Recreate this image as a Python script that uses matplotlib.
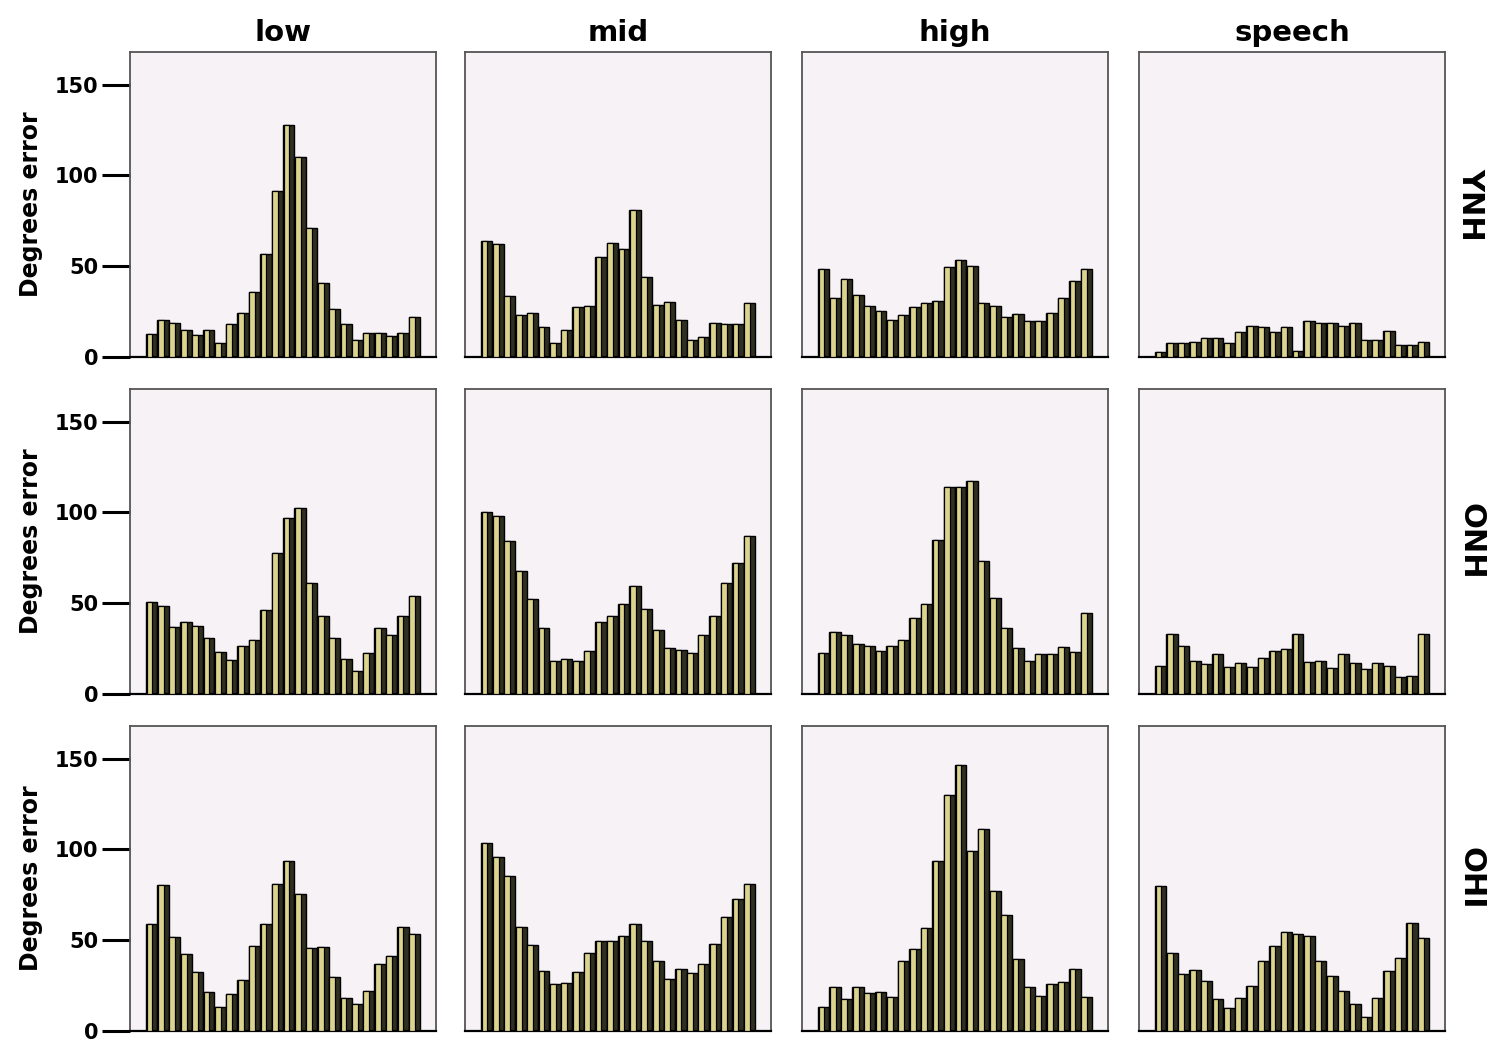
import numpy as np
import matplotlib
matplotlib.use('Agg')
import matplotlib.pyplot as plt

columns = ['low', 'mid', 'high', 'speech']
groups = ['YNH', 'ONH', 'OHI']

# degrees error per bin (24 bins)
ynh_low = [12.5, 20.4, 18.9, 14.9, 12.1, 14.9, 7.9, 18.2, 24.4, 35.7, 56.8, 91.2,
           127.9, 109.9, 70.8, 41.0, 26.3, 18.2, 9.4, 13.4, 13.4, 11.6, 13.4, 21.9]
ynh_mid = [64.1, 62.3, 33.6, 23.2, 24.4, 16.4, 7.9, 14.9, 27.8, 28.3, 55.3, 63.0,
           59.4, 81.1, 44.3, 28.7, 30.1, 20.4, 9.4, 11.2, 18.6, 18.2, 18.0, 29.6]
ynh_high = [48.5, 32.7, 42.8, 34.2, 28.3, 25.5, 20.4, 23.2, 27.8, 29.6, 31.1, 49.3,
            53.5, 50.2, 29.6, 28.3, 22.2, 23.7, 19.9, 19.9, 24.4, 32.3, 42.1, 48.5]
ynh_speech = [2.9, 7.5, 7.5, 8.1, 10.7, 10.7, 7.9, 14.0, 17.3, 16.4, 13.6, 16.7,
              3.3, 19.9, 18.6, 18.6, 17.3, 18.6, 9.4, 9.4, 14.5, 6.6, 6.6, 8.5]

onh_low = [50.9, 48.7, 37.1, 39.5, 37.7, 30.7, 23.0, 18.7, 26.7, 29.8, 46.3, 77.9,
           96.9, 102.4, 61.0, 43.2, 30.7, 19.1, 12.7, 22.8, 36.2, 32.3, 43.2, 54.2]
onh_mid = [100.5, 98.3, 84.4, 68.0, 52.2, 36.2, 18.2, 19.3, 18.2, 23.9, 39.5, 43.2,
           49.6, 59.7, 46.9, 35.3, 25.2, 24.3, 22.4, 32.5, 43.2, 61.0, 72.4, 87.3]
onh_high = [22.4, 34.4, 32.5, 27.6, 26.5, 23.7, 26.5, 29.8, 42.1, 49.4, 84.9, 113.8,
            113.8, 117.6, 73.5, 53.1, 36.2, 25.2, 18.2, 22.1, 22.1, 26.1, 23.3, 44.5]
onh_speech = [15.6, 33.1, 26.7, 18.2, 16.5, 22.1, 15.1, 16.9, 15.1, 19.7, 23.7, 24.8,
              33.1, 17.8, 18.2, 14.2, 22.1, 16.9, 13.8, 16.9, 15.6, 9.6, 9.9, 33.1]

ohi_low = [59.0, 80.5, 52.0, 42.5, 32.7, 21.7, 13.4, 20.4, 28.1, 46.9, 59.0, 81.1,
           93.4, 75.5, 45.6, 46.5, 30.0, 18.0, 14.7, 22.2, 36.8, 41.4, 57.5, 53.5]
ohi_mid = [103.5, 96.1, 85.5, 57.5, 47.4, 33.1, 25.7, 26.7, 32.7, 42.8, 49.3, 49.3,
           52.4, 59.0, 49.3, 38.6, 28.7, 34.0, 32.2, 36.8, 48.0, 63.0, 72.6, 80.9]
ohi_high = [13.0, 24.4, 17.6, 24.4, 20.8, 21.7, 18.9, 38.6, 45.2, 56.6, 93.7, 129.8,
            146.7, 99.3, 111.4, 77.2, 64.0, 39.7, 24.4, 19.3, 25.7, 26.8, 34.2, 18.9]
ohi_speech = [79.6, 42.8, 31.4, 33.6, 27.6, 17.5, 12.5, 18.0, 25.0, 38.6, 46.9, 54.8,
              53.5, 52.4, 38.6, 30.3, 22.1, 14.9, 7.9, 18.0, 33.3, 40.1, 59.4, 51.1]

grid = [[ynh_low, ynh_mid, ynh_high, ynh_speech],
        [onh_low, onh_mid, onh_high, onh_speech],
        [ohi_low, ohi_mid, ohi_high, ohi_speech]]

W, H = 1494, 1040
col_x = [130, 465, 802, 1139]
row_top = [52, 389, 726]
aw, ah = 306, 305

light = '#dcd48e'
dark = '#2f2f22'
bg = '#f6f2f6'

fig = plt.figure(figsize=(W / 100, H / 100), dpi=100)

for r in range(3):
    for c in range(4):
        ax = fig.add_axes([col_x[c] / W, 1 - (row_top[r] + ah) / H, aw / W, ah / H])
        vals = np.array(grid[r][c])
        x = np.arange(len(vals))
        ax.bar(x, vals, width=1.0, color=dark, edgecolor='black', linewidth=1.0, zorder=2)
        ax.bar(x - 0.2, vals, width=0.5, color=light, edgecolor='black', linewidth=0.9, zorder=3)
        ax.set_xlim(-1.9, 24.9)
        ax.set_ylim(0, 168)
        ax.set_facecolor(bg)
        ax.set_xticks([])
        for s in ['top', 'left', 'right']:
            ax.spines[s].set_color('#555555')
            ax.spines[s].set_linewidth(1.3)
        ax.spines['bottom'].set_color('black')
        ax.spines['bottom'].set_linewidth(1.6)
        if c == 0:
            ax.set_yticks([0, 50, 100, 150])
            ax.tick_params(axis='y', length=20, width=2.2, labelsize=15, pad=3)
            for lab in ax.get_yticklabels():
                lab.set_fontweight('bold')
            ax.set_ylabel('Degrees error', fontsize=17, fontweight='bold', labelpad=8)
        else:
            ax.set_yticks([])
        if r == 0:
            ax.set_title(columns[c], fontsize=21, fontweight='bold', pad=8)
        if c == 3:
            ax.text(1.085, 0.5, groups[r], transform=ax.transAxes, rotation=270,
                    ha='center', va='center', fontsize=22, fontweight='bold')

fig.savefig('out.png', dpi=100)
